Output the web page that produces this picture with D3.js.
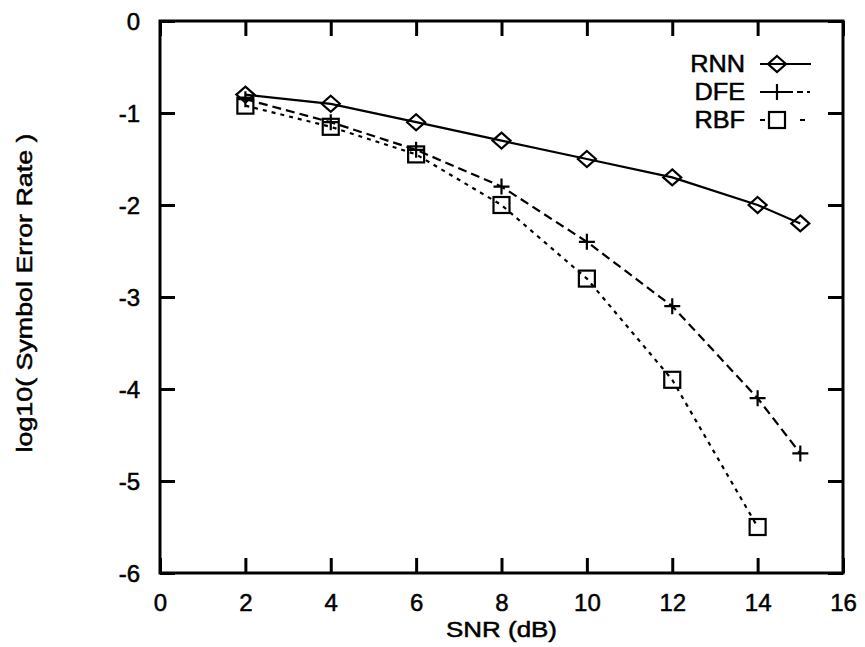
<!DOCTYPE html>
<html>
<head>
<meta charset="utf-8">
<script src="https://cdn.jsdelivr.net/npm/d3@7"></script>
<style>
  body { margin: 0; background: #fff; }
  text { font-family: "Liberation Sans", Arial, Helvetica, sans-serif; fill: #000; stroke: #000; stroke-width: 0.5px; }
</style>
</head>
<body>
<svg id="chart" width="865" height="647"></svg>
<script>
// SNR (dB) sample points and log10 symbol error rates for each equaliser
const snrRNN = [2, 4, 6, 8, 10, 12, 14, 15];
const serRNN = [-0.8, -0.9, -1.1, -1.3, -1.5, -1.7, -2.0, -2.2];
const snrDFE = [2, 4, 6, 8, 10, 12, 14, 15];
const serDFE = [-0.85, -1.1, -1.4, -1.8, -2.4, -3.1, -4.1, -4.7];
const snrRBF = [2, 4, 6, 8, 10, 12, 14];
const serRBF = [-0.92, -1.15, -1.45, -2.0, -2.8, -3.9, -5.5];
const xTicks = [0, 2, 4, 6, 8, 10, 12, 14, 16];
const yTicks = [0, -1, -2, -3, -4, -5, -6];
const seriesNames = ["RNN", "DFE", "RBF"];

const svg = d3.select("#chart");
const plotLeft = 160, plotRight = 843, plotTop = 21, plotBottom = 573;

const x = d3.scaleLinear().domain([0, 16]).range([plotLeft, plotRight]);
const y = d3.scaleLinear().domain([-6, 0]).range([plotBottom, plotTop]);

// frame
svg.append("rect")
  .attr("x", plotLeft).attr("y", plotTop)
  .attr("width", plotRight - plotLeft).attr("height", plotBottom - plotTop)
  .attr("fill", "none").attr("stroke", "#000").attr("stroke-width", 3);

const tickLen = 15;
const plainFmt = d => String(d);   // ASCII hyphen for negatives
// axes with inward ticks on all four sides
const gx = svg.append("g").attr("transform", `translate(0,${plotBottom})`)
  .call(d3.axisBottom(x).tickValues(xTicks).tickSize(-tickLen).tickPadding(27).tickFormat(plainFmt));
const gxTop = svg.append("g").attr("transform", `translate(0,${plotTop})`)
  .call(d3.axisTop(x).tickValues(xTicks).tickSize(-tickLen).tickFormat(""));
const gy = svg.append("g").attr("transform", `translate(${plotLeft},0)`)
  .call(d3.axisLeft(y).tickValues(yTicks).tickSize(-tickLen).tickPadding(20).tickFormat(plainFmt));
const gyRight = svg.append("g").attr("transform", `translate(${plotRight},0)`)
  .call(d3.axisRight(y).tickValues(yTicks).tickSize(-tickLen).tickFormat(""));

[gx, gxTop, gy, gyRight].forEach(g => {
  g.select(".domain").remove();
  g.selectAll(".tick line").attr("stroke", "#000").attr("stroke-width", 3);
  g.selectAll("text").attr("font-size", 24).attr("fill", "#000")
    .style("font-family", "'Liberation Sans', Arial, sans-serif");
});
gx.selectAll("text").attr("dy", "0.45em");
gy.selectAll("text").attr("dy", "0.35em");

// axis titles (slightly widened lettering)
svg.append("text")
  .attr("transform", `translate(${(plotLeft + plotRight) / 2},637) scale(1.18,1)`)
  .attr("text-anchor", "middle").attr("font-size", 22).text("SNR (dB)");
svg.append("text")
  .attr("transform", `translate(32,293) rotate(-90) scale(1.22,1)`)
  .attr("text-anchor", "middle").attr("font-size", 22).text("log10( Symbol Error Rate )");

const line = d3.line().x(d => x(d[0])).y(d => y(d[1]));

const series = [
  { name: seriesNames[0], xs: snrRNN, ys: serRNN, dash: null, marker: "diamond" },
  { name: seriesNames[1], xs: snrDFE, ys: serDFE, dash: "9,5", marker: "plus" },
  { name: seriesNames[2], xs: snrRBF, ys: serRBF, dash: "4,5", marker: "square" }
];

function drawMarker(g, type, cx, cy) {
  if (type === "diamond") {
    g.append("path")
      .attr("d", `M${cx},${cy - 8}L${cx + 9},${cy}L${cx},${cy + 8}L${cx - 9},${cy}Z`)
      .attr("fill", "none").attr("stroke", "#000").attr("stroke-width", 2.2);
  } else if (type === "plus") {
    g.append("path")
      .attr("d", `M${cx - 8},${cy}H${cx + 8}M${cx},${cy - 8}V${cy + 8}`)
      .attr("fill", "none").attr("stroke", "#000").attr("stroke-width", 2.2);
  } else {
    g.append("rect").attr("x", cx - 8).attr("y", cy - 8).attr("width", 16).attr("height", 16)
      .attr("fill", "none").attr("stroke", "#000").attr("stroke-width", 2.2);
  }
}

series.forEach(s => {
  const pts = s.xs.map((v, i) => [v, s.ys[i]]);
  svg.append("path").datum(pts).attr("d", line)
    .attr("fill", "none").attr("stroke", "#000").attr("stroke-width", 2.2)
    .attr("stroke-dasharray", s.dash);
  const g = svg.append("g");
  pts.forEach(p => drawMarker(g, s.marker, x(p[0]), y(p[1])));
});

// legend
const legend = svg.append("g");
const legendDash = [null, "10,13,10,4,6,4,3,10", "5,35,5,20"];
series.forEach((s, i) => {
  const ly = 64 + i * 28;
  legend.append("text").attr("transform", `translate(745,${ly + 8}) scale(1.1,1)`)
    .attr("text-anchor", "end").attr("font-size", 23).text(s.name);
  legend.append("line").attr("x1", 760).attr("x2", 811).attr("y1", ly).attr("y2", ly)
    .attr("stroke", "#000").attr("stroke-width", 2.2).attr("stroke-dasharray", legendDash[i]);
  drawMarker(legend, s.marker, 777, ly);
});
</script>
</body>
</html>
